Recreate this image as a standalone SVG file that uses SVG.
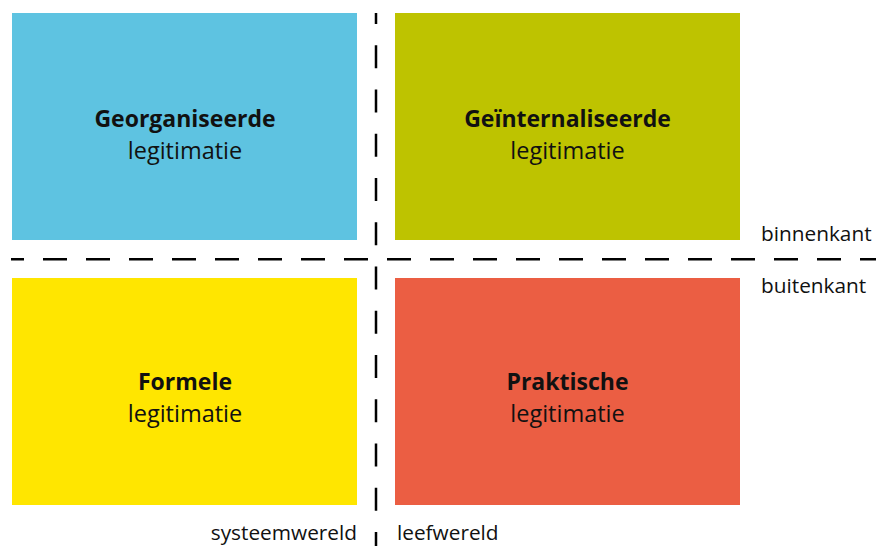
<svg xmlns="http://www.w3.org/2000/svg" width="876" height="546" viewBox="0 0 876 546">
  <style>
    .box { stroke: none; }
    .title { font-family: "Open Sans", "Liberation Sans", sans-serif; font-size: 23px; font-weight: 700; fill: #111; text-anchor: middle; }
    .sub { font-family: "Open Sans", "Liberation Sans", sans-serif; font-size: 23.5px; font-weight: 400; fill: #111; text-anchor: middle; }
    .axis { font-family: "Open Sans", "Liberation Sans", sans-serif; font-size: 20.8px; fill: #111; }
    .divider { stroke: #000; stroke-width: 2.5; fill: none; }
  </style>
  <rect width="876" height="546" fill="#fff"/>

  <!-- quadrant dividers -->
  <g id="connectors">
    <line class="divider" x1="11" y1="259.3" x2="876" y2="259.3" stroke-dasharray="24 19" stroke-dashoffset="11"/>
    <line class="divider" x1="376" y1="13" x2="376" y2="546" stroke-dasharray="23 21.25" stroke-dashoffset="12"/>
  </g>

  <g id="georganiseerde">
    <rect class="box" x="12" y="13" width="345" height="227" fill="#5EC3E1"/>
    <text class="title" x="185" y="127">Georganiseerde</text>
    <text class="sub" x="185" y="159">legitimatie</text>
  </g>

  <g id="geinternaliseerde">
    <rect class="box" x="395" y="13" width="345" height="227" fill="#BEC300"/>
    <text class="title" x="567.5" y="127">Geïnternaliseerde</text>
    <text class="sub" x="567.5" y="159">legitimatie</text>
  </g>

  <g id="formele">
    <rect class="box" x="12" y="278" width="345" height="227" fill="#FFE600"/>
    <text class="title" x="185" y="390">Formele</text>
    <text class="sub" x="185" y="422">legitimatie</text>
  </g>

  <g id="praktische">
    <rect class="box" x="395" y="278" width="345" height="227" fill="#EB5E43"/>
    <text class="title" x="567.5" y="390">Praktische</text>
    <text class="sub" x="567.5" y="422">legitimatie</text>
  </g>

  <!-- axis labels -->
  <g id="labels">
    <text class="axis" x="761" y="241">binnenkant</text>
    <text class="axis" x="761" y="293">buitenkant</text>
    <text class="axis" x="357" y="539.5" text-anchor="end">systeemwereld</text>
    <text class="axis" x="397" y="539.5">leefwereld</text>
  </g>
</svg>
